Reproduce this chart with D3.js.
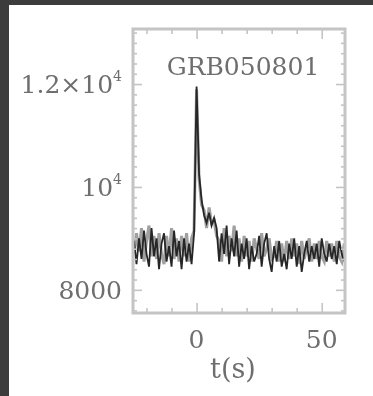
<!DOCTYPE html>
<html><head><meta charset="utf-8">
<script src="https://cdn.jsdelivr.net/npm/d3@7"></script>
<style>html,body{margin:0;padding:0;background:#fff;}svg{display:block;}</style>
</head><body>
<script>
// ---- data ----
const title = "GRB050801";
const tStart = -25;            // first bin time (s), 1 s bins
const blackCounts = [
 8950, 8500, 9000, 8600, 9150, 8700, 8450, 9200, 8650, 9000, 8400, 8900, 9100, 8550, 8850, 8450, 9150, 8650, 8950, 8400, 9000, 8550, 8900, 8500, 9100,
 11950, 10250, 9750, 9450, 9300, 9500, 9250, 9400, 9200,
 8550, 9100, 8700, 9250, 8500, 9000, 8650, 9150, 8450, 8900, 8600, 9000, 8400, 8850, 8550, 8700, 9050, 8450, 8900, 9100, 8600, 8350, 8850, 8550, 8950, 8450,
 8700, 8400, 8900, 8600, 9000, 8450, 8850, 8350, 8700, 8950, 8550, 8850, 8600, 8900, 8450, 9000, 8700, 8550, 8900, 8600, 8850, 8500, 8950, 8700, 8550
];
const grayCounts = [
 8700, 9100, 8750, 9200, 8550, 8950, 9250, 8650, 9050, 8600, 9100, 8700, 8500, 9050, 8650, 9200, 8600, 9000, 8550, 9050, 8650, 9100, 8550, 9000, 9150,
 11900, 10150, 9650, 9550, 9200, 9600, 9300, 9350, 9050,
 8950, 8550, 9200, 8650, 9050, 8750, 9250, 8650, 9000, 8550, 9050, 8650, 8950, 8550, 9000, 8800, 8600, 9100, 8650, 8800, 9000, 8600, 8650, 8950, 8550, 8900,
 8550, 8950, 8600, 9000, 8650, 8900, 8500, 8950, 8600, 8800, 9000, 8550, 8900, 8600, 8950, 8650, 8550, 8950, 8650, 8900, 8550, 8950, 8650, 8550, 8900
];
const xDomain = [-25.4, 59.3];
const yDomain = [7550, 13070];
const xMajor = [0, 50];
const xMinor = [-20, -10, 10, 20, 30, 40];
const yMajor = [8000, 10000, 12000];
const yLabels = [{v:12000, base:"1.2×10", sup:"4"}, {v:10000, base:"10", sup:"4"}, {v:8000, base:"8000", sup:""}];
const xLabel = "t(s)";

// ---- layout ----
const W = 373, H = 396;
const L = 133, R = 345, T = 29, B = 313;
const svg = d3.select("body").append("svg").attr("width", W).attr("height", H);
svg.append("rect").attr("width", W).attr("height", H).attr("fill", "#fff");

const defs = svg.append("defs");
defs.append("filter").attr("id","soft").append("feGaussianBlur").attr("stdDeviation", 0.7);

const x = d3.scaleLinear().domain(xDomain).range([L, R]);
const y = d3.scaleLinear().domain(yDomain).range([B, T]);

const g = svg.append("g").attr("filter", "url(#soft)");
const frameCol = "#c4c4c4";

// curves (1 s bins)
const mk = arr => arr.map((v, i) => ({t: tStart + i, v}));
const ln = d3.line().x(d => x(d.t)).y(d => y(d.v));
defs.append("clipPath").attr("id","pc").append("rect")
  .attr("x", L).attr("y", T).attr("width", R - L).attr("height", B - T);
const cg = g.append("g").attr("clip-path", "url(#pc)");
cg.append("path").datum(mk(grayCounts)).attr("d", ln)
  .attr("fill", "none").attr("stroke", "#a0a0a0").attr("stroke-width", 3);
cg.append("path").datum(mk(blackCounts)).attr("d", ln)
  .attr("fill", "none").attr("stroke", "#262626").attr("stroke-width", 1.8);

// ticks via axes
function styleAxis(sel) {
  sel.select(".domain").remove();
  sel.selectAll("line").attr("stroke", frameCol).attr("stroke-width", 1.6);
  sel.selectAll("text").remove();
}
const yMinorVals = d3.range(7600, 13001, 200).filter(v => !yMajor.includes(v));
g.append("g").attr("transform", `translate(${L},0)`).call(d3.axisRight(y).tickValues(yMinorVals).tickSize(4)).call(styleAxis);
g.append("g").attr("transform", `translate(${L},0)`).call(d3.axisRight(y).tickValues(yMajor).tickSize(9)).call(styleAxis);
g.append("g").attr("transform", `translate(${R},0)`).call(d3.axisLeft(y).tickValues(yMinorVals).tickSize(4)).call(styleAxis);
g.append("g").attr("transform", `translate(${R},0)`).call(d3.axisLeft(y).tickValues(yMajor).tickSize(9)).call(styleAxis);
g.append("g").attr("transform", `translate(0,${B})`).call(d3.axisTop(x).tickValues(xMinor).tickSize(5)).call(styleAxis);
g.append("g").attr("transform", `translate(0,${B})`).call(d3.axisTop(x).tickValues(xMajor).tickSize(10)).call(styleAxis);
g.append("g").attr("transform", `translate(0,${T})`).call(d3.axisBottom(x).tickValues(xMinor).tickSize(5)).call(styleAxis);
g.append("g").attr("transform", `translate(0,${T})`).call(d3.axisBottom(x).tickValues(xMajor).tickSize(10)).call(styleAxis);

// frame
g.append("rect").attr("x", L).attr("y", T).attr("width", R - L).attr("height", B - T)
  .attr("fill", "none").attr("stroke", frameCol).attr("stroke-width", 3);

// text
const font = "'DejaVu Serif', serif";
const txtCol = "#6e6e6e";
const tg = svg.append("g").attr("filter", "url(#soft)").attr("fill", txtCol).attr("font-family", font);
tg.append("text").attr("x", 243).attr("y", 75).attr("text-anchor", "middle")
  .attr("font-size", 25).text(title);
yLabels.forEach(d => {
  const t = tg.append("text").attr("x", 122).attr("y", y(d.v) + 9).attr("text-anchor", "end").attr("font-size", 25);
  t.append("tspan").text(d.base);
  if (d.sup) t.append("tspan").attr("font-size", 14).attr("dy", -12).text(d.sup);
});
xMajor.forEach(v => {
  tg.append("text").attr("x", x(v)).attr("y", 348).attr("text-anchor", "middle").attr("font-size", 25).text(v);
});
tg.append("text").attr("x", 233).attr("y", 378).attr("text-anchor", "middle").attr("font-size", 27).text(xLabel);

// dark border (left and top)
svg.append("rect").attr("x", 0).attr("y", 0).attr("width", 9).attr("height", H).attr("fill", "#3c3c3c");
svg.append("rect").attr("x", 0).attr("y", 0).attr("width", W).attr("height", 5).attr("fill", "#3c3c3c");
</script>
</body></html>
